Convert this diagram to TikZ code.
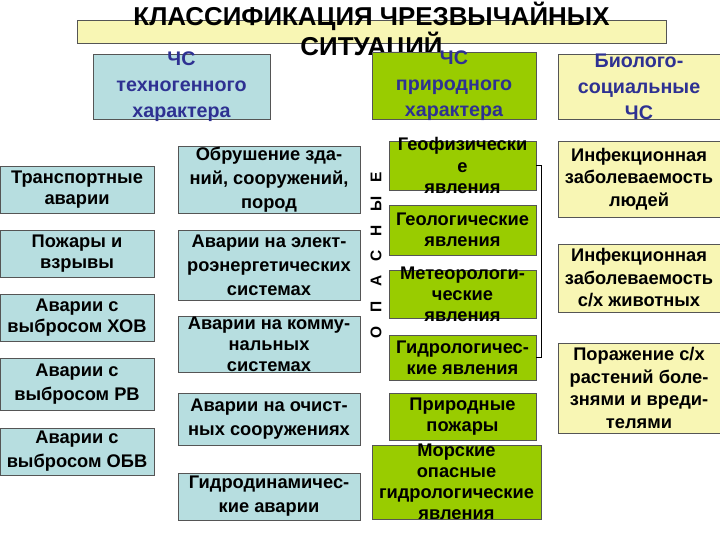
\documentclass[tikz,border=0pt]{standalone}
\usepackage{fontspec}
\setmainfont{Liberation Sans}
\usetikzlibrary{fit}

\definecolor{techblue}{HTML}{B7DEE0}
\definecolor{natgreen}{HTML}{99CC00}
\definecolor{bioyellow}{HTML}{F8F6B4}
\definecolor{headblue}{HTML}{2E3192}
\definecolor{edgegray}{HTML}{555555}

\tikzset{
  box/.style={draw=edgegray, inner sep=0pt, line width=0.6pt},
  tech/.style={box, fill=techblue},
  nat/.style={box, fill=natgreen},
  bio/.style={box, fill=bioyellow},
  txt/.style={align=center, inner sep=0pt, font=\bfseries\fontsize{13}{15}\selectfont},
  txtwide/.style={txt, font=\bfseries\fontsize{13}{17}\selectfont},
  head/.style={txt, text=headblue, font=\bfseries\fontsize{14}{18.5}\selectfont},
}

\begin{document}
\begin{tikzpicture}[x=0.025cm, y=-0.025cm]
        \useasboundingbox (0,0) rectangle (720,540);

        % Title.
        \node[bio, fit={(77,20) (666,43)}, label={[txt, font=\bfseries\fontsize{18.4}{19.5}\selectfont]center:{КЛАССИФИКАЦИЯ ЧРЕЗВЫЧАЙНЫХ\\СИТУАЦИЙ}}] (title) {};

        % Groups.
        \node[tech, fit={(93,54) (270,119)}, label={[head]center:{ЧС\\техногенного\\характера}}] (techhead) {};
        \node[nat, fit={(372,52) (536,119)}, label={[head]center:{ЧС\\природного\\характера}}] (nathead) {};
        \node[bio, fit={(558,54) (720,119)}, label={[head]center:{Биолого-\\социальные\\ЧС}}] (biohead) {};

        % Technogenic, left column.
        \node[tech, fit={(0,166) (154,213)}, label={[txt]center:{Транспортные\\аварии}}] (transport) {};
        \node[tech, fit={(0,230) (154,277)}, label={[txt]center:{Пожары и\\взрывы}}] (fires) {};
        \node[tech, fit={(0,294) (154,341)}, label={[txt]center:{Аварии с\\выбросом ХОВ}}] (chem) {};
        \node[tech, fit={(0,358) (154,410)}, label={[txtwide]center:{Аварии с\\выбросом РВ}}] (rad) {};
        \node[tech, fit={(0,428) (154,475)}, label={[txtwide]center:{Аварии с\\выбросом ОБВ}}] (biol) {};

        % Technogenic, middle column.
        \node[tech, fit={(178,146) (360,213)}, label={[txtwide]center:{Обрушение зда-\\ний, сооружений,\\пород}}] (collapse) {};
        \node[tech, fit={(178,230) (360,300)}, label={[txtwide]center:{Аварии на элект-\\роэнергетических\\системах}}] (power) {};
        \node[tech, fit={(178,316) (360,372)}, label={[txt]center:{Аварии на комму-\\нальных\\системах}}] (utility) {};
        \node[tech, fit={(178,393) (360,445)}, label={[txtwide]center:{Аварии на очист-\\ных сооружениях}}] (sewage) {};
        \node[tech, fit={(178,473) (360,520)}, label={[txtwide]center:{Гидродинамичес-\\кие аварии}}] (hydrodyn) {};

        % Natural.
        \node[rotate=90, font=\bfseries\fontsize{11}{13}\selectfont] (danger) at (376,255) {О\hspace{10pt}П\hspace{10pt}А\hspace{10pt}С\hspace{10pt}Н\hspace{10pt}Ы\hspace{10pt}Е};
        \node[nat, fit={(389,141) (536,190)}, label={[txt]center:{Геофизически\\е\\явления}}] (geophys) {};
        \node[nat, fit={(389,205) (536,255)}, label={[txt]center:{Геологические\\явления}}] (geol) {};
        \node[nat, fit={(389,270) (536,318)}, label={[txt]center:{Метеорологи-\\ческие\\явления}}] (meteo) {};
        \node[nat, fit={(389,335) (536,380)}, label={[txt]center:{Гидрологичес-\\кие явления}}] (hydro) {};
        \node[nat, fit={(389,393) (536,440)}, label={[txt]center:{Природные\\пожары}}] (wildfire) {};
        \node[nat, fit={(372,445) (541,519)}, label={[txt]center:{Морские\\опасные\\гидрологические\\явления}}] (sea) {};
        \draw[line width=0.6pt] (geophys.east) -- ++(5,0) |- (hydro.east);

        % Biological and social.
        \node[bio, fit={(558,141) (720,217)}, label={[txt, font=\bfseries\fontsize{13}{16}\selectfont]center:{Инфекционная\\заболеваемость\\людей}}] (people) {};
        \node[bio, fit={(558,244) (720,312)}, label={[txt, font=\bfseries\fontsize{13}{16}\selectfont]center:{Инфекционная\\заболеваемость\\с/х животных}}] (animals) {};
        \node[bio, fit={(558,343) (720,433)}, label={[txt, font=\bfseries\fontsize{13}{16}\selectfont]center:{Поражение с/х\\растений боле-\\знями и вреди-\\телями}}] (plants) {};
    \end{tikzpicture}
\end{document}
